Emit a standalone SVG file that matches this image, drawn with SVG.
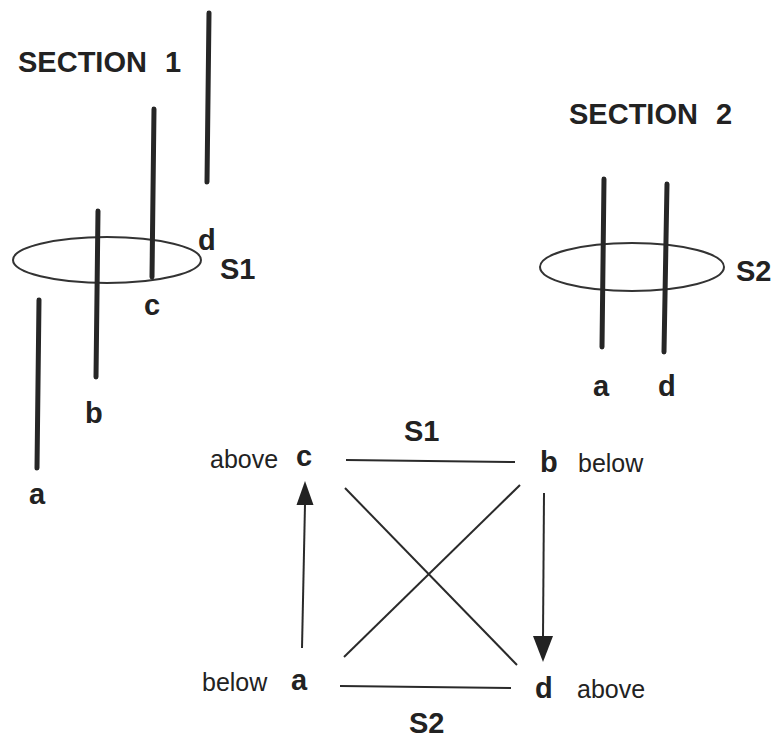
<svg xmlns="http://www.w3.org/2000/svg" width="777" height="738" viewBox="0 0 777 738">
<style>
.bg{fill:#ffffff}
.rod{stroke:#262626;stroke-width:5;stroke-linecap:round;fill:none}
.ring{stroke:#333;stroke-width:2;fill:none}
.ln{stroke:#2a2a2a;stroke-width:2;fill:none}
.t{font-family:"Liberation Sans",Arial,sans-serif;fill:#222}
.h{font-size:29px;font-weight:bold}
.b{font-size:29px;font-weight:bold}
.r{font-size:25px}
</style>
<rect class="bg" x="0" y="0" width="777" height="738"/>

<g id="section1">
<text class="t h" x="18" y="72">SECTION</text>
<text class="t h" x="165" y="72">1</text>
<ellipse class="ring" cx="107" cy="260" rx="94" ry="23"/>
<line class="rod" x1="209" y1="13" x2="207" y2="182"/>
<line class="rod" x1="154" y1="109" x2="152" y2="277"/>
<line class="rod" x1="98" y1="211" x2="96" y2="377"/>
<line class="rod" x1="39" y1="300" x2="37" y2="468"/>
<text class="t b" x="198" y="250">d</text>
<text class="t b" x="220" y="279">S1</text>
<text class="t b" x="144" y="315">c</text>
<text class="t b" x="85" y="423">b</text>
<text class="t b" x="29" y="504">a</text>
</g>

<g id="section2">
<text class="t h" x="569" y="124">SECTION</text>
<text class="t h" x="716" y="124">2</text>
<ellipse class="ring" cx="632" cy="267" rx="92" ry="24"/>
<line class="rod" x1="604" y1="179" x2="602" y2="347"/>
<line class="rod" x1="667" y1="184" x2="664" y2="352"/>
<text class="t b" x="736" y="281">S2</text>
<text class="t b" x="593" y="396">a</text>
<text class="t b" x="658" y="396">d</text>
</g>

<g id="node-c">
<text class="t r" x="210" y="468">above</text>
<text class="t b" x="296" y="466">c</text>
</g>
<g id="node-b">
<text class="t b" x="540" y="472">b</text>
<text class="t r" x="578" y="472">below</text>
</g>
<g id="node-a">
<text class="t r" x="202" y="691">below</text>
<text class="t b" x="291" y="690">a</text>
</g>
<g id="node-d">
<text class="t b" x="535" y="698">d</text>
<text class="t r" x="577" y="698">above</text>
</g>

<g id="connectors">
<line class="ln" x1="346" y1="460" x2="515" y2="462"/>
<line class="ln" x1="340" y1="686" x2="511" y2="688"/>
<line class="ln" x1="345" y1="488" x2="517" y2="665"/>
<line class="ln" x1="520" y1="485" x2="344" y2="657"/>
<line class="ln" x1="302" y1="648" x2="305" y2="504"/>
<path d="M305,481 L313.5,505 L296.5,505 Z" fill="#222"/>
<line class="ln" x1="544" y1="493" x2="543" y2="638"/>
<path d="M543,662 L533,636 L553,636 Z" fill="#222"/>
<text class="t b" x="404" y="441">S1</text>
<text class="t b" x="409" y="733">S2</text>
</g>
</svg>
